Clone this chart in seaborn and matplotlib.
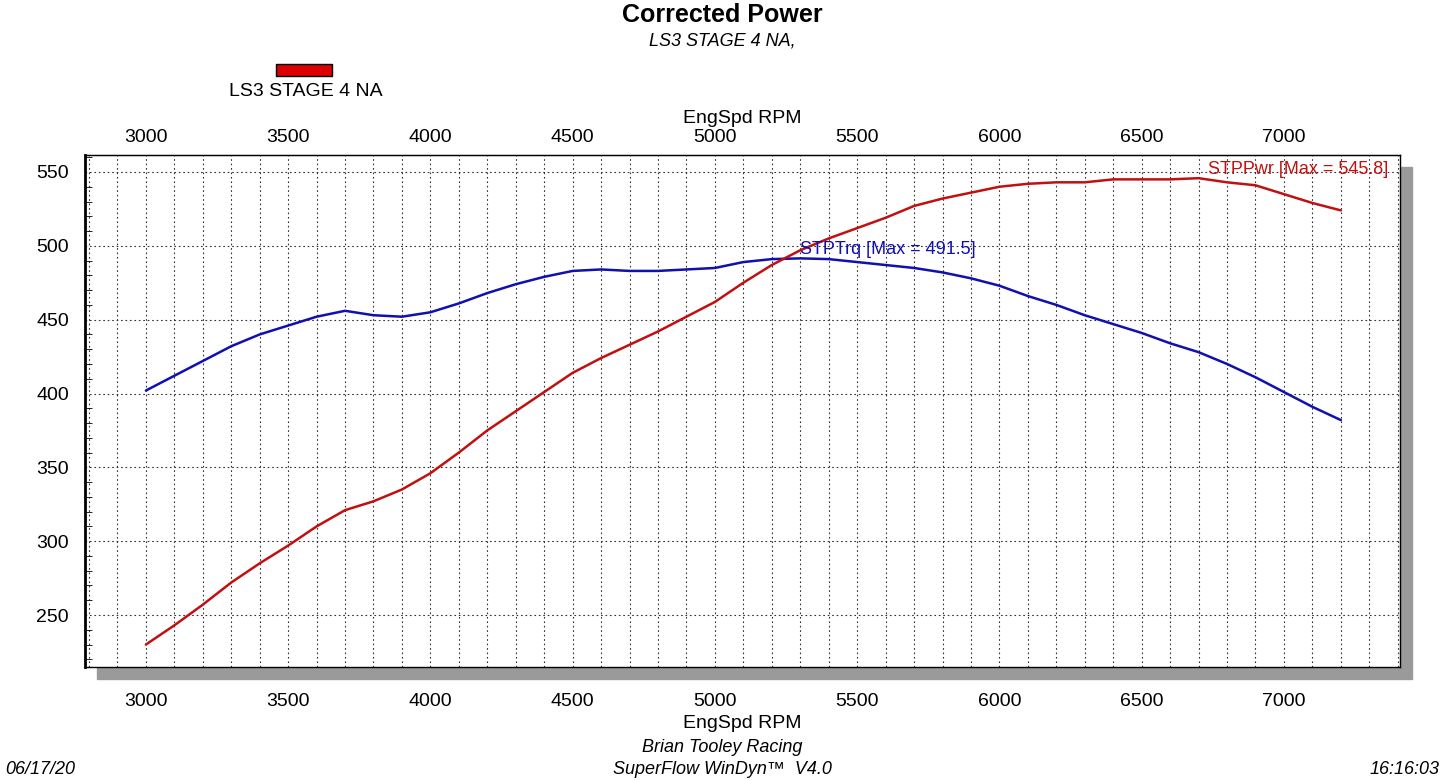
import matplotlib
matplotlib.use("Agg")
import matplotlib.pyplot as plt
import matplotlib.ticker as mtick
from matplotlib.patches import Rectangle
import pandas as pd
import seaborn as sns

RPM = [3000, 3100, 3200, 3300, 3400, 3500, 3600, 3700, 3800, 3900, 4000, 4100, 4200, 4300,
       4400, 4500, 4600, 4700, 4800, 4900, 5000, 5100, 5200, 5300, 5400, 5500, 5600, 5700,
       5800, 5900, 6000, 6100, 6200, 6300, 6400, 6500, 6600, 6700, 6800, 6900, 7000, 7100, 7200]
TORQUE = [402, 412, 422, 432, 440, 446, 452, 456, 453, 452, 455, 461, 468, 474,
          479, 483, 484, 483, 483, 484, 485, 489, 491, 491.5, 491, 489, 487, 485,
          482, 478, 473, 466, 460, 453, 447, 441, 434, 428, 420, 411, 401, 391, 382]
POWER = [230, 243, 257, 272, 285, 297, 310, 321, 327, 335, 346, 360, 375, 388,
         401, 414, 424, 433, 442, 452, 462, 475, 487, 497, 505, 512, 519, 527,
         532, 536, 540, 542, 543, 543, 545, 545, 545, 545.8, 543, 541, 535, 529, 524]
TICKS = [3000, 3500, 4000, 4500, 5000, 5500, 6000, 6500, 7000]

df = pd.DataFrame({"rpm": RPM, "STPTrq": TORQUE, "STPPwr": POWER})

sns.set_style("white")
plt.rcParams.update({"font.family": "Liberation Sans", "text.color": "black",
                     "xtick.color": "black", "ytick.color": "black",
                     "axes.labelcolor": "black"})
fig = plt.figure(figsize=(14.45, 7.8), dpi=100)
ax = fig.add_axes([85 / 1445, 1 - 667 / 780, 1315 / 1445, 512 / 780])

# drop shadow behind the plot box
fig.patches.append(Rectangle((97 / 1445, 1 - 679 / 780), 1315 / 1445, 512 / 780,
                             transform=fig.transFigure, color="#9a9a9a", zorder=0))
ax.set_zorder(1)

sns.lineplot(data=df, x="rpm", y="STPTrq", ax=ax, color="#1010b0", lw=1.8)
sns.lineplot(data=df, x="rpm", y="STPPwr", ax=ax, color="#c01010", lw=1.8)

ax.set_xlim(2786, 7408)
ax.set_ylim(214.8, 561.5)
ax.set_xticks(TICKS)
ax.xaxis.set_minor_locator(mtick.MultipleLocator(100))
ax.yaxis.set_major_locator(mtick.MultipleLocator(50))
ax.yaxis.set_minor_locator(mtick.MultipleLocator(10))
ax.grid(which="major", axis="y", color="#333333", ls=(0, (1.5, 2.5)), lw=0.8)
ax.grid(which="both", axis="x", color="#333333", ls=(0, (1.5, 2.5)), lw=0.8)
ax.tick_params(axis="x", which="both", bottom=False, top=False, labelsize=14, pad=15)
ax.tick_params(axis="y", which="major", left=False, labelsize=14, pad=8)
ax.tick_params(axis="y", which="minor", direction="in", left=True, length=5, width=0.6)
for s in ax.spines.values():
    s.set_color("black")
    s.set_linewidth(1.0)
ax.spines["left"].set_linewidth(2)
ax.set_xlabel("EngSpd RPM", fontsize=14, labelpad=4)
ax.set_ylabel("")

top = ax.secondary_xaxis("top")
top.set_xticks(TICKS)
top.tick_params(axis="x", top=False, labelsize=14, pad=3)
top.set_xlabel("EngSpd RPM", fontsize=14, labelpad=4)

ax.text(5300, 491.5, "STPTrq [Max = 491.5]", color="#1010b0", fontsize=13, va="bottom")
ax.text(7365, 545.8, "STPPwr [Max = 545.8]", color="#c01010", fontsize=13, va="bottom", ha="right")

fig.text(0.5, 1 - 15 / 780, "Corrected Power", ha="center", va="center", fontsize=18, fontweight="bold")
fig.text(0.5, 1 - 41 / 780, "LS3 STAGE 4 NA,", ha="center", va="center", fontsize=13, style="italic")
fig.patches.append(Rectangle((276 / 1445, 1 - 76 / 780), 56 / 1445, 12 / 780,
                             transform=fig.transFigure, facecolor="#dd0000", edgecolor="black", lw=1))
fig.text(229 / 1445, 1 - 92 / 780, "LS3 STAGE 4 NA", ha="left", va="center", fontsize=14)
fig.text(0.5, 1 - 748 / 780, "Brian Tooley Racing", ha="center", va="center", fontsize=13, style="italic")
fig.text(0.5, 1 - 769 / 780, "SuperFlow WinDyn\u2122  V4.0", ha="center", va="center", fontsize=13, style="italic")
fig.text(5 / 1445, 1 - 769 / 780, "06/17/20", ha="left", va="center", fontsize=13, style="italic")
fig.text(1440 / 1445, 1 - 769 / 780, "16:16:03", ha="right", va="center", fontsize=13, style="italic")

fig.savefig("out.png", dpi=100)
